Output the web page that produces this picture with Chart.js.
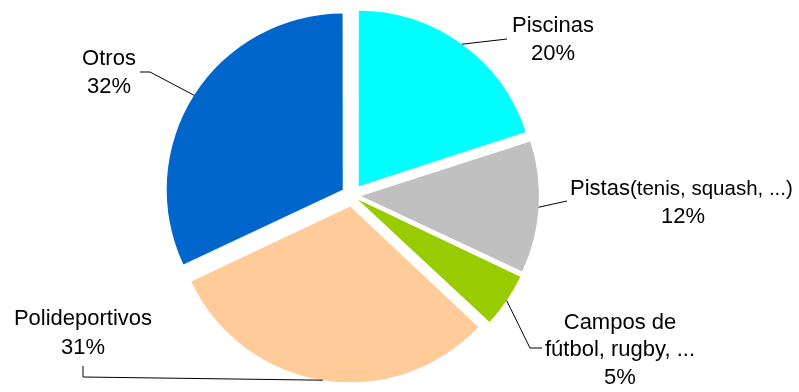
<!DOCTYPE html>
<html>
<head>
<meta charset="utf-8">
<script src="https://cdn.jsdelivr.net/npm/chart.js@4/dist/chart.umd.min.js"></script>
<style>
  html, body { margin: 0; padding: 0; background: #fff; }
  #wrap { width: 799px; height: 392px; }
</style>
</head>
<body>
<div id="wrap"><canvas id="pie" width="799" height="392"></canvas></div>
<script>
// Instalaciones deportivas por tipo (%)
const categories = ['Piscinas', 'Pistas(tenis, squash, ...)', 'Campos de fútbol, rugby, ...', 'Polideportivos', 'Otros'];
const labelLines = [['Piscinas'], ['Pistas(tenis, squash, ...)'], ['Campos de', 'fútbol, rugby, ...'], ['Polideportivos'], ['Otros']];
const values = [20, 12, 5, 31, 32];
const colors = ['#00FFFF', '#C0C0C0', '#99CC00', '#FFCC99', '#0066CC'];

const FONT = '"Liberation Sans", Arial, sans-serif';
const PIE_RADIUS = 175;
const EXPLODE = 12;          // how far each slice is pulled out, px

const total = values.reduce((a, b) => a + b, 0);

// Chart.js shifts an arc by offset/4 * (1 + (1 - sin(sweep))); pick offsets
// so that every slice ends up pulled out by the same distance.
const sliceOffsets = values.map(v => {
  const sweep = v / total * Math.PI * 2;
  const fix = 1 - Math.sin(Math.min(Math.PI, sweep));
  return 4 * EXPLODE / (1 + fix);
});

// Label placement: text anchor, line baselines, and leader-line bends.
const labelLayout = [
  { x: 553, base: [32, 60], align: 'center', path: [[507, 39]] },
  { x: 570, base: [195, 223], align: 'left', pctX: 683, path: [[567, 201]] },
  { x: 620, base: [329, 356, 384], align: 'center', path: [[542, 348], [530, 348]] },
  { x: 83, base: [325, 354], align: 'center', path: [[83, 366], [83, 377]] },
  { x: 109, base: [65, 93], align: 'center', path: [[140, 72], [150, 72]] }
];

const pieLabels = {
  id: 'pieLabels',
  afterDatasetsDraw(chart) {
    const ctx = chart.ctx;
    const arcs = chart.getDatasetMeta(0).data;
    ctx.save();
    arcs.forEach((arc, i) => {
      const lay = labelLayout[i];
      const mid = (arc.startAngle + arc.endAngle) / 2;
      const r = arc.outerRadius + EXPLODE;
      const ax = arc.x + Math.cos(mid) * r;
      const ay = arc.y + Math.sin(mid) * r;

      // leader line from the slice edge to the label
      ctx.beginPath();
      ctx.strokeStyle = '#000';
      ctx.lineWidth = 1;
      const pts = lay.path.slice();
      ctx.moveTo(pts[0][0], pts[0][1]);
      for (let k = 1; k < pts.length; k++) ctx.lineTo(pts[k][0], pts[k][1]);
      ctx.lineTo(ax, ay);
      ctx.stroke();

      // label text
      ctx.fillStyle = '#000';
      ctx.textBaseline = 'alphabetic';
      const lines = labelLines[i];
      lines.forEach((line, j) => {
        const p = line.indexOf('(');
        if (p > 0) {
          const main = line.slice(0, p);
          const small = line.slice(p);
          ctx.textAlign = 'left';
          ctx.font = '22px ' + FONT;
          ctx.fillText(main, lay.x, lay.base[j]);
          const w = ctx.measureText(main).width;
          ctx.font = '20.5px ' + FONT;
          ctx.fillText(small, lay.x + w, lay.base[j]);
        } else {
          ctx.font = '22px ' + FONT;
          ctx.textAlign = lay.align;
          ctx.fillText(line, lay.x, lay.base[j]);
        }
      });
      const pct = Math.round(values[i] / total * 100) + '%';
      ctx.font = '22px ' + FONT;
      ctx.textAlign = 'center';
      ctx.fillText(pct, lay.pctX || lay.x, lay.base[lines.length]);
    });
    ctx.restore();
  }
};

new Chart(document.getElementById('pie'), {
  type: 'pie',
  data: {
    labels: categories,
    datasets: [{
      data: values,
      backgroundColor: colors,
      borderWidth: 0,
      offset: sliceOffsets,
      hoverOffset: 0
    }]
  },
  options: {
    responsive: false,
    animation: false,
    events: [],
    radius: PIE_RADIUS,
    layout: { padding: { left: 0, right: 95, top: 2, bottom: 3 } },
    plugins: {
      legend: { display: false },
      tooltip: { enabled: false }
    }
  },
  plugins: [pieLabels]
});
</script>
</body>
</html>
